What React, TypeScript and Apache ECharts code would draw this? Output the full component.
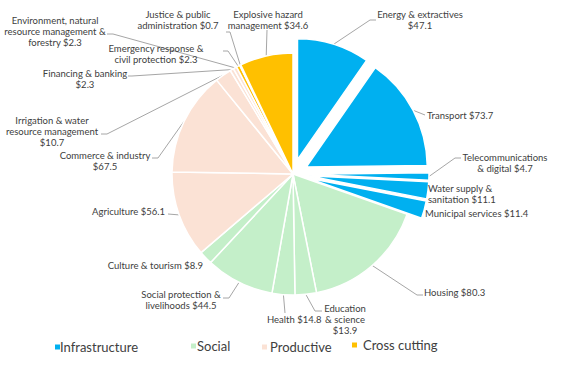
import React, { useEffect, useRef } from "react";
import * as echarts from "echarts";

const categories = [
  "Energy & extractives",
  "Transport",
  "Telecommunications & digital",
  "Water supply & sanitation",
  "Municipal services",
  "Housing",
  "Education & science",
  "Health",
  "Social protection & livelihoods",
  "Culture & tourism",
  "Agriculture",
  "Commerce & industry",
  "Irrigation & water resource management",
  "Financing & banking",
  "Environment, natural resource management & forestry",
  "Emergency response & civil protection",
  "Justice & public administration",
  "Explosive hazard management",
];
const values = [47.1, 73.7, 4.7, 11.1, 11.4, 80.3, 13.9, 14.8, 44.5, 8.9, 56.1, 67.5, 10.7, 2.3, 2.3, 2.3, 0.7, 34.6];
const groupOf = [0, 0, 0, 0, 0, 1, 1, 1, 1, 1, 2, 2, 2, 2, 2, 3, 3, 3];
const groups = ["Infrastructure", "Social", "Productive", "Cross cutting"];
const groupColors = ["#00B0F0", "#C4EFC9", "#FBE2D5", "#FFC000"];
// slices pulled out of the pie (Infrastructure)
const exploded = [true, true, true, true, true, false, false, false, false, false, false, false, false, false, false, false, false, false];

// label text with the reference's line breaks
const labelText = [
  "Energy & extractives\n$47.1",
  "Transport $73.7",
  "Telecommunications\n& digital $4.7",
  "Water supply &\nsanitation $11.1",
  "Municipal services $11.4",
  "Housing $80.3",
  "Education\n& science\n$13.9",
  "Health $14.8",
  "Social protection &\nlivelihoods $44.5",
  "Culture & tourism $8.9",
  "Agriculture $56.1",
  "Commerce & industry\n$67.5",
  "Irrigation & water\nresource management\n$10.7",
  "Financing & banking\n$2.3",
  "Environment, natural\nresource management &\nforestry $2.3",
  "Emergency response &\ncivil protection $2.3",
  "Justice & public\nadministration $0.7",
  "Explosive hazard\nmanagement $34.6",
];

// label layout: anchor x, y, align, leader-line points after the slice edge
type Lay = { x: number; y: number; align: string; line: number[][] | null };
const labelLayoutPos: Lay[] = [
  { x: 420, y: 20, align: "center", line: [[370, 20], [376, 20]] },
  { x: 427, y: 115, align: "left", line: [[425, 115]] },
  { x: 505, y: 163, align: "center", line: [[455, 158], [461, 158]] },
  { x: 428, y: 194, align: "left", line: null },
  { x: 425, y: 213, align: "left", line: null },
  { x: 424, y: 292, align: "left", line: [[417, 295], [423, 295]] },
  { x: 345, y: 319, align: "center", line: [[315, 311], [322, 311]] },
  { x: 267, y: 319, align: "left", line: [[285, 313]] },
  { x: 181, y: 300, align: "center", line: [[229, 298], [223, 298]] },
  { x: 203, y: 265, align: "right", line: null },
  { x: 165, y: 211, align: "right", line: [[168, 214]] },
  { x: 105, y: 161, align: "center", line: [[158, 158], [152, 158]] },
  { x: 52, y: 131, align: "center", line: [[107, 134], [101, 134]] },
  { x: 85, y: 79, align: "center", line: [[132, 76], [128, 76]] },
  { x: 55, y: 31, align: "center", line: [[113, 34], [107, 34]] },
  { x: 156, y: 54, align: "center", line: [[228, 51], [223, 51]] },
  { x: 178, y: 20, align: "center", line: [[230, 32], [226, 32]] },
  { x: 268, y: 20, align: "center", line: [[267, 30]] },
];

const legendPos = [
  { iconX: 55, textX: 60, y: 347 },
  { iconX: 191, textX: 197, y: 346 },
  { iconX: 262, textX: 270, y: 347 },
  { iconX: 352, textX: 363, y: 345 },
];

const CX = 293;
const CY = 174;
const R = 121;
const EXPLODE = 15;

export default function App() {
  const ref = useRef<HTMLDivElement>(null);
  useEffect(() => {
    if (!ref.current) return;
    const chart = echarts.init(ref.current, null, { renderer: "svg" });
    const total = values.reduce((a, b) => a + b, 0);

    const baseLabel = {
      show: true,
      position: "outside",
      formatter: (p: any) => labelText[p.dataIndex],
      fontFamily: "Lato, 'Noto Sans', sans-serif",
      fontSize: 9.5,
      lineHeight: 11,
      color: "#404040",
    };
    const layoutFn = (params: any) => {
      const L = labelLayoutPos[params.dataIndex];
      const res: any = { x: L.x, y: L.y, align: L.align, verticalAlign: "middle" };
      if (L.line && params.labelLinePoints) {
        res.labelLinePoints = [params.labelLinePoints[0], ...L.line];
      }
      return res;
    };
    const makeSeries = (center: number[], visible: (i: number) => boolean) => ({
      type: "pie",
      center,
      radius: R,
      startAngle: 90,
      clockwise: true,
      avoidLabelOverlap: false,
      silent: true,
      emphasis: { disabled: true },
      label: baseLabel,
      labelLine: { show: true, length: 10, length2: 10, lineStyle: { color: "#A6A6A6", width: 1 } },
      labelLayout: layoutFn,
      data: categories.map((name, i) => {
        const vis = visible(i);
        return {
          name,
          value: values[i],
          itemStyle: vis
            ? { color: groupColors[groupOf[i]], borderColor: "#ffffff", borderWidth: 1.5 }
            : { color: "rgba(0,0,0,0)", borderWidth: 0 },
          label: { show: vis },
          labelLine: { show: vis && labelLayoutPos[i].line !== null },
        };
      }),
    });

    const series: any[] = [makeSeries([CX, CY], (i) => !exploded[i])];
    let cum = 0;
    values.forEach((v, i) => {
      const mid = ((cum + v / 2) / total) * Math.PI * 2;
      cum += v;
      if (!exploded[i]) return;
      const c = [CX + EXPLODE * Math.sin(mid), CY - EXPLODE * Math.cos(mid)];
      series.push(makeSeries(c, (j) => j === i));
    });

    const graphics: any[] = [];
    groups.forEach((g, k) => {
      const p = legendPos[k];
      graphics.push({
        type: "rect",
        shape: { x: p.iconX, y: p.y - 2.5, width: 5, height: 5 },
        style: { fill: groupColors[k] },
      });
      graphics.push({
        type: "text",
        x: p.textX,
        y: p.y,
        style: {
          text: g,
          fill: "#404040",
          font: '13px Lato, "Noto Sans", sans-serif',
          verticalAlign: "middle",
        },
      });
    });

    chart.setOption({
      animation: false,
      backgroundColor: "#ffffff",
      graphic: graphics,
      series,
    });
    return () => chart.dispose();
  }, []);
  return (
    <div
      ref={ref}
      style={{ position: "fixed", left: 0, top: 0, width: 572, height: 375 }}
    />
  );
}
